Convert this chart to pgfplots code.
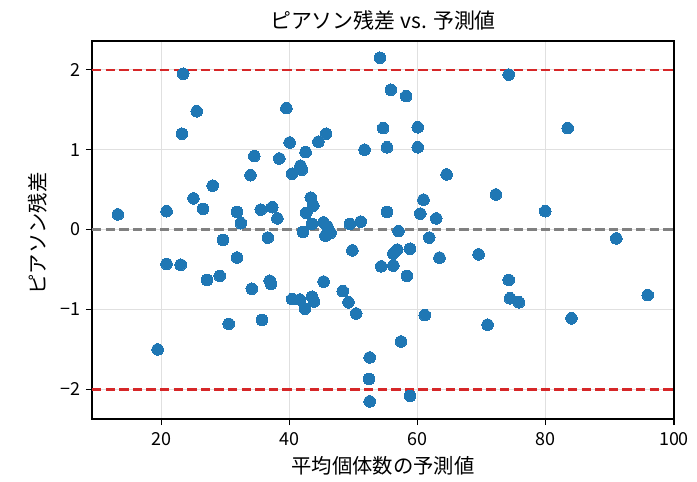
\documentclass[border=0pt]{standalone}
\usepackage{pgfplots}
\pgfplotsset{compat=1.18}
\usepackage{fontspec}
\setmainfont{Noto Sans CJK JP}
\definecolor{mplblue}{RGB}{31,119,180}
\definecolor{mplred}{RGB}{214,39,40}
\begin{document}
\begin{tikzpicture}
\useasboundingbox (-92bp,-63bp) rectangle (605bp,419bp);
\begin{axis}[
  scale only axis,
  width=582bp, height=378bp,
  xmin=9.16, xmax=100,
  ymin=-2.37, ymax=2.36,
  xtick={20,40,60,80,100},
  xticklabels={20,40,60,80,100},
  ytick={-2,-1,0,1,2},
  yticklabels={−2,−1,0,1,2},
  tick align=outside,
  xtick pos=left, ytick pos=left,
  major tick length=6bp,
  every tick/.style={black, line width=1.1bp},
  axis line style={black, line width=1.1bp},
  grid=major,
  major grid style={black!12, line width=0.8bp},
  ticklabel style={font=\fontsize{18}{20}\selectfont},
  xticklabel style={yshift=-4bp},
  yticklabel style={xshift=-2bp},
  title={ピアソン残差 vs. 予測値},
  title style={at={(0.5,1)}, anchor=center, yshift=15bp, font=\fontsize{21}{24}\selectfont},
  xlabel={平均個体数の予測値},
  xlabel style={at={(0.5,0)}, anchor=center, yshift=-47bp, font=\fontsize{20.4}{23}\selectfont},
  ylabel={ピアソン残差},
  ylabel style={at={(0,0.5)}, anchor=center, yshift=54.5bp, xshift=-3.5bp, font=\fontsize{20.4}{23}\selectfont},
  clip=false,
]
\addplot[gray, line width=2.2bp, dash pattern=on 9.3bp off 4.3bp, forget plot] coordinates {(9.16,0) (100,0)};
\addplot[mplred, line width=2.2bp, dash pattern=on 9.3bp off 4.3bp, forget plot] coordinates {(9.16,2) (100,2)};
\addplot[mplred, line width=2.2bp, dash pattern=on 9.3bp off 4.3bp, forget plot] coordinates {(9.16,-2) (100,-2)};
\addplot[mplblue, only marks, mark=*, mark size=5.8bp, mark options={solid, mplblue, fill=mplblue, line width=0bp}] coordinates {
(13.2,0.19) (19.4,-1.50) (20.8,0.23) (20.8,-0.43) (23.4,1.95) (23.2,1.20) (23.0,-0.44)
(25.5,1.48) (25.0,0.39) (26.5,0.26) (27.1,-0.63) (28.0,0.55) (29.1,-0.58) (29.6,-0.13)
(30.5,-1.18) (31.8,0.22) (31.8,-0.35) (32.4,0.08) (33.9,0.68) (34.1,-0.74) (34.5,0.92)
(35.5,0.25) (35.7,-1.13) (36.6,-0.10) (36.9,-0.64) (37.1,-0.68) (37.3,0.28) (38.1,0.14)
(38.4,0.89) (39.5,1.52) (40.0,1.09) (40.4,0.70) (40.4,-0.87) (41.6,-0.875) (41.7,0.80)
(41.9,0.75) (42.1,-0.03) (42.4,-0.99) (42.5,0.97) (42.6,0.21) (43.3,0.40) (43.7,0.30)
(43.5,0.07) (43.5,-0.84) (43.8,-0.90) (44.5,1.10) (45.3,0.09) (45.3,-0.65) (45.6,-0.075)
(45.7,1.20) (45.9,0.04) (46.4,-0.04) (48.3,-0.77) (49.2,-0.91) (49.4,0.07) (49.8,-0.26)
(50.4,-1.05) (51.1,0.10) (51.7,1.00) (52.5,-1.60) (52.4,-1.87) (52.5,-2.15) (54.1,2.15)
(54.3,-0.46) (54.6,1.27) (55.2,1.03) (55.2,0.22) (55.8,1.75) (56.2,-0.30) (56.2,-0.45)
(56.8,-0.25) (57.0,-0.02) (57.4,-1.40) (58.2,1.67) (58.3,-0.58) (58.8,-0.24) (58.8,-2.08)
(60.0,1.28) (60.0,1.03) (60.4,0.20) (60.9,0.375) (61.1,-1.07) (61.8,-0.10) (62.9,0.14)
(63.4,-0.35) (64.5,0.69) (69.5,-0.31) (70.9,-1.19) (72.2,0.44) (74.2,1.94) (74.2,-0.63)
(74.4,-0.86) (75.8,-0.91) (79.9,0.23) (83.4,1.27) (84.0,-1.11) (91.0,-0.11) (95.9,-0.82)
};
\end{axis}
\end{tikzpicture}
\end{document}
